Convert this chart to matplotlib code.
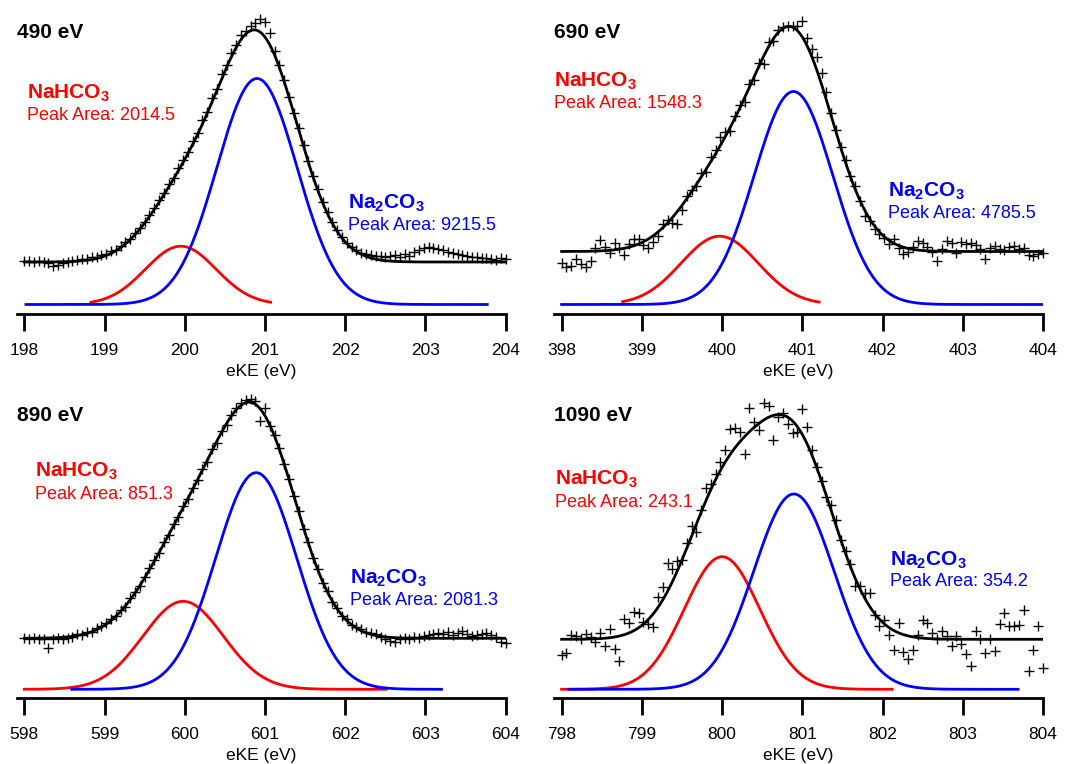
import numpy as np
import matplotlib
matplotlib.use("Agg")
import matplotlib.pyplot as plt

plt.rcParams['font.family'] = ['Liberation Sans', 'DejaVu Sans']
plt.rcParams['mathtext.fontset'] = 'custom'
plt.rcParams['mathtext.rm'] = 'Liberation Sans'
plt.rcParams['mathtext.bf'] = 'Liberation Sans:bold'

# photon energies and fitted peak areas
photon = ['490 eV', '690 eV', '890 eV', '1090 eV']
area_hco3 = [2014.5, 1548.3, 851.3, 243.1]
area_co3 = [9215.5, 4785.5, 2081.3, 354.2]

# eKE window start of each panel, 0.06 eV steps, 101 points
ke_start = [198, 398, 598, 798]
step = 0.06

counts_490 = [43, 43, 42, 43, 42, 41, 38, 39, 41, 42,
              43, 44, 45, 45, 47, 47, 49, 50, 53, 54,
              58, 62, 65, 71, 76, 82, 89, 96, 104, 111,
              120, 126, 136, 144, 152, 163, 171, 184, 193, 207,
              216, 231, 240, 252, 260, 270, 274, 279, 282, 286,
              283, 272, 254, 240, 225, 208, 192, 176, 159, 143,
              128, 115, 102, 92, 82, 74, 67, 61, 57, 54,
              51, 50, 49, 48, 48, 47, 48, 49, 47, 50,
              48, 52, 54, 56, 57, 56, 55, 54, 52, 51,
              50, 49, 48, 47, 47, 46, 46, 45, 44, 46, 45]
counts_690 = [41, 37, 38, 45, 40, 37, 43, 56, 64, 57,
              51, 61, 56, 49, 60, 65, 65, 59, 56, 62,
              68, 80, 84, 81, 80, 94, 108, 114, 118, 131,
              132, 147, 154, 167, 172, 173, 188, 200, 203, 221,
              225, 242, 241, 263, 264, 275, 278, 279, 279, 279,
              284, 267, 256, 248, 232, 213, 192, 174, 157, 144,
              128, 118, 103, 88, 83, 75, 70, 66, 60, 65,
              56, 50, 52, 57, 63, 61, 57, 52, 43, 55,
              63, 61, 51, 62, 60, 61, 59, 55, 45, 56,
              58, 55, 54, 57, 58, 55, 56, 49, 48, 50, 51]
counts_890 = [51, 50, 51, 50, 50, 41, 50, 51, 50, 51,
              52, 55, 54, 57, 57, 61, 63, 66, 70, 73,
              79, 82, 91, 97, 103, 112, 121, 129, 136, 147,
              154, 165, 172, 183, 190, 201, 209, 220, 227, 240,
              246, 258, 264, 274, 281, 286, 289, 290, 288, 268,
              281, 263, 254, 241, 225, 210, 193, 178, 160, 147,
              131, 120, 106, 98, 87, 81, 73, 70, 64, 62,
              60, 57, 56, 55, 52, 50, 48, 47, 50, 51,
              50, 52, 51, 53, 54, 55, 56, 55, 57, 54,
              56, 58, 55, 53, 54, 55, 56, 54, 52, 47, 46]
counts_1090 = [34, 36, 54, 53, 50, 55, 52, 47, 56, 43,
               60, 40, 28, 70, 66, 77, 76, 67, 65, 62,
               92, 102, 126, 120, 128, 129, 146, 163, 157, 179,
               201, 205, 215, 227, 239, 260, 261, 257, 235, 281,
               267, 259, 286, 283, 249, 272, 276, 265, 256, 257,
               280, 262, 239, 222, 208, 192, 184, 169, 149, 138,
               125, 103, 103, 96, 96, 74, 63, 69, 54, 39,
               66, 37, 30, 39, 54, 69, 66, 56, 50, 58,
               53, 43, 53, 45, 35, 23, 58, 50, 36, 50,
               38, 65, 76, 63, 63, 64, 79, 18, 39, 63, 21]
counts = [counts_490, counts_690, counts_890, counts_1090]

# fit results: flat background, then gaussian centre / height / sigma / drawn range
background = [42.5, 53.0, 51.0, 50.0]
hco3_fit = [(199.95, 58.3, 0.44, 198.83, 201.07),
            (399.97, 68.3, 0.48, 398.76, 401.21),
            (599.98, 88.0, 0.50, 598.0, 602.51),
            (800.00, 132.6, 0.47, 798.0, 802.12)]
co3_fit = [(200.90, 226.0, 0.50, 198.02, 203.77),
           (400.89, 213.0, 0.49, 398.0, 404.0),
           (600.89, 216.6, 0.505, 598.59, 603.2),
           (800.895, 195.3, 0.50, 798.09, 803.69)]

# label anchors (eKE, height) for the two species
hco3_pos = [(198.03, 211.5), (397.91, 223.5), (598.13, 217.6), (797.92, 210.0)]
co3_pos = [(202.04, 101.5), (402.07, 112.8), (602.06, 111.0), (802.09, 129.3)]


def gauss(x, c, h, s):
    return h * np.exp(-(x - c) ** 2 / (2 * s * s))


fig = plt.figure(figsize=(10.65, 7.64), dpi=100)
# left px, axis-line px, top px, baseline px
rects = [(16.7, 314, 10, 304.5), (554, 314, 10, 304.5),
         (16.7, 698.3, 394, 689.3), (554, 698.3, 394, 689.3)]

for k in range(4):
    lx, ax_px, top, base = rects[k]
    e0 = ke_start[k]
    ax = fig.add_axes([lx / 1065, 1 - ax_px / 764, 489 / 1065, (ax_px - top) / 764])
    ax.set_xlim(e0 - 0.095, e0 + 6)
    ax.set_ylim(base - ax_px, base - top)

    r = hco3_fit[k]
    b = co3_fit[k]
    xr = np.linspace(r[3], r[4], 300)
    ax.plot(xr, gauss(xr, *r[:3]), color='#ff0000', lw=2.0)
    xb = np.linspace(b[3], b[4], 300)
    ax.plot(xb, gauss(xb, *b[:3]), color='#0000ff', lw=2.0)
    xf = np.linspace(e0, e0 + 6, 400)
    ax.plot(xf, background[k] + gauss(xf, *r[:3]) + gauss(xf, *b[:3]),
            color='black', lw=2.0)

    xp = e0 + step * np.arange(len(counts[k]))
    ax.plot(xp, counts[k], '+', color='black', ms=7.5, mew=1.0, clip_on=False)

    ax.text(e0 - 0.09, base - 32 if k < 2 else base - 415.7, photon[k],
            fontsize=15, fontweight='bold', va='center', ha='left')
    hx, hy = hco3_pos[k]
    ax.text(hx, hy, r'$\mathbf{NaHCO_3}$', color='#ff0000', fontsize=15, va='center')
    ax.text(hx, hy - 23, 'Peak Area: %.1f' % area_hco3[k], color='#ff0000',
            fontsize=13, va='center')
    cx, cy = co3_pos[k]
    ax.text(cx, cy, r'$\mathbf{Na_2CO_3}$', color='#0000ff', fontsize=15, va='center')
    ax.text(cx, cy - 22, 'Peak Area: %.1f' % area_co3[k], color='#0000ff',
            fontsize=13, va='center')

    for s in ['left', 'right', 'top']:
        ax.spines[s].set_visible(False)
    ax.spines['bottom'].set_linewidth(2.0)
    ax.set_yticks([])
    ax.set_xticks(np.arange(e0, e0 + 7))
    ax.tick_params(axis='x', length=12, width=2.0, labelsize=12.5, pad=9)
    ax.set_xlabel('eKE (eV)', fontsize=12.5, labelpad=4)

fig.savefig('out.png')
